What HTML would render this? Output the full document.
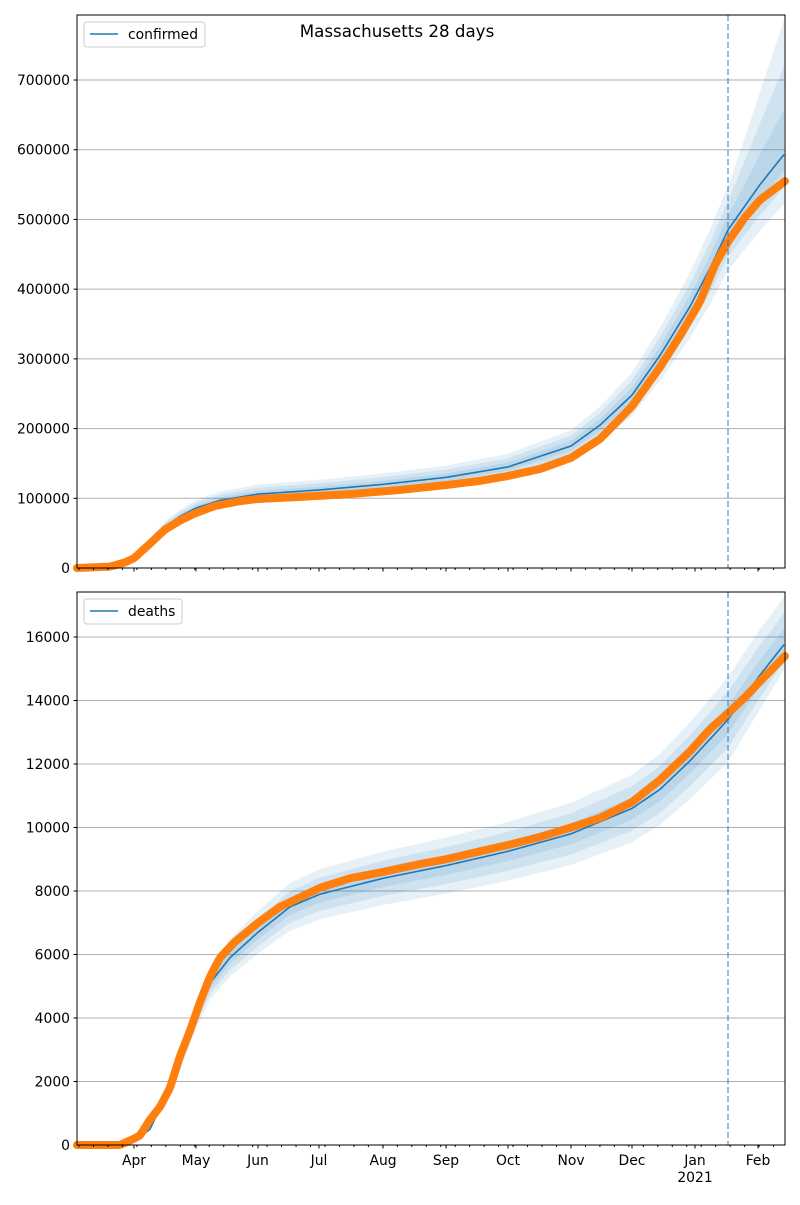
<!DOCTYPE html>
<html><head><meta charset="utf-8"><style>
body{margin:0;background:#fff}
svg text{font-family:"DejaVu Sans","Liberation Sans",sans-serif;font-size:13.9px;fill:#000}
</style></head><body>
<svg id="s" width="800" height="1200" xmlns="http://www.w3.org/2000/svg"></svg>
<script>
const S=document.getElementById('s');let h='';
function interp(pts,x){for(let i=0;i<pts.length-1;i++){if(x>=pts[i][0]&&x<=pts[i+1][0]){const t=(x-pts[i][0])/(pts[i+1][0]-pts[i][0]);return pts[i][1]+t*(pts[i+1][1]-pts[i][1]);}}return x<pts[0][0]?pts[0][1]:pts[pts.length-1][1];}
function panel(o){
 const {top,bot,scale,ticks,obs,mod,up0,up1,dn0,dn1,labels,legend,lw}=o;
 const Y=v=>bot-v*scale;
 ticks.forEach(t=>{const y=Y(t);if(t>0)h+=`<line x1="77" x2="785" y1="${y}" y2="${y}" stroke="#b0b0b0" stroke-width="1"/>`;h+=`<line x1="73.5" x2="77" y1="${y}" y2="${y}" stroke="#000"/><text x="70" y="${y+5}" text-anchor="end">${t}</text>`;});
 const xs=[];for(let x=120;x<=785;x+=2)xs.push(x);
 [1,0.66,0.33].forEach(f=>{
  let up=[],dn=[];
  xs.forEach(x=>{const m=interp(mod,x);const r=x<728?0:(x-728)/57;const u=up0+(up1-up0)*r,d=dn0+(dn1-dn0)*r;up.push([x,Y(m*(1+u*f))]);dn.push([x,Y(m*(1-d*f))]);});
  h+=`<path d="M${up.map(p=>p.join(',')).join('L')}L${dn.reverse().map(p=>p.join(',')).join('L')}Z" fill="#1f77b4" fill-opacity="0.11"/>`;
 });
 let mp=[];for(let x=120;x<=785;x+=2)mp.push(x+','+Y(interp(mod,x)));
 h+=`<path d="M${mp.join('L')}" fill="none" stroke="#1f77b4" stroke-width="1.6"/>`;
 let op=[];for(let x=77;x<=785;x+=2)op.push(x+','+Y(interp(obs,x)));
 h+=`<path d="M${op.join('L')}" fill="none" stroke="#ff7f0e" stroke-width="8" stroke-linecap="round" stroke-linejoin="round"/>`;
 h+=`<line x1="728" x2="728" y1="${top}" y2="${bot}" stroke="#1f77b4" stroke-opacity="0.6" stroke-width="1.6" stroke-dasharray="6,3"/>`;
 h+=`<rect x="77" y="${top}" width="708" height="${bot-top}" fill="none" stroke="#000" stroke-width="1"/>`;
 const months=[[134,'Apr'],[196,'May'],[258,'Jun'],[319,'Jul'],[383,'Aug'],[446,'Sep'],[508,'Oct'],[571,'Nov'],[632,'Dec'],[695,'Jan'],[758,'Feb']];
 months.forEach(m=>{h+=`<line x1="${m[0]}" x2="${m[0]}" y1="${bot}" y2="${bot+3.5}" stroke="#000"/>`;if(labels)h+=`<text x="${m[0]}" y="${bot+20}" text-anchor="middle">${m[1]}</text>`;});
 for(let x=79;x<785;x+=14.47)h+=`<line x1="${x}" x2="${x}" y1="${bot}" y2="${bot+2}" stroke="#000"/>`;
 if(labels)h+=`<text x="695" y="${bot+37}" text-anchor="middle">2021</text>`;
 h+=`<rect x="84" y="${top+7}" width="${lw}" height="25" rx="3" fill="#fff" fill-opacity="0.8" stroke="#ccc"/><line x1="90" x2="118" y1="${top+19}" y2="${top+19}" stroke="#1f77b4" stroke-width="1.6"/><text x="128" y="${top+24}">${legend}</text>`;
}
panel({top:15,bot:568,scale:0.0006971,ticks:[0,100000,200000,300000,400000,500000,600000,700000],
 obs:[[77,0],[110,2e3],[125,8e3],[134,14e3],[150,35e3],[165,55e3],[180,68e3],[196,79e3],[215,89e3],[240,96e3],[258,99e3],[300,102e3],[350,106e3],[400,112e3],[446,119e3],[480,125e3],[508,132e3],[540,142e3],[571,158e3],[600,185e3],[632,232e3],[660,288e3],[680,333e3],[700,382e3],[715,435e3],[728,468e3],[745,503e3],[760,528e3],[785,555e3]],
 mod:[[120,5e3],[134,14e3],[150,38e3],[165,59e3],[180,74e3],[196,86e3],[220,97e3],[258,106e3],[320,112e3],[383,120e3],[446,130e3],[508,145e3],[571,175e3],[600,205e3],[632,248e3],[660,305e3],[690,375e3],[710,430e3],[728,485e3],[760,550e3],[785,595e3]],
 up0:0.13,up1:0.33,dn0:0.12,dn1:0.12,labels:false,legend:'confirmed',lw:121});
panel({top:592,bot:1145,scale:0.03175,ticks:[0,2000,4000,6000,8000,10000,12000,14000,16000],
 obs:[[77,0],[120,0],[134,200],[140,300],[150,800],[160,1200],[170,1800],[180,2800],[190,3600],[200,4500],[210,5300],[220,5900],[235,6400],[258,7000],[280,7500],[300,7800],[320,8100],[350,8400],[383,8600],[420,8850],[446,9000],[480,9250],[508,9450],[540,9700],[571,10000],[600,10300],[632,10800],[660,11500],[690,12400],[710,13100],[728,13600],[745,14100],[760,14600],[785,15400]],
 mod:[[120,0],[134,100],[150,500],[165,1500],[180,2600],[195,4000],[210,5100],[230,5900],[258,6700],[290,7500],[320,7900],[383,8400],[446,8800],[508,9250],[571,9800],[632,10600],[660,11200],[690,12100],[728,13400],[760,14800],[785,15800]],
 up0:0.1,up1:0.095,dn0:0.1,dn1:0.05,labels:true,legend:'deaths',lw:98});
h+=`<text x="397" y="37" text-anchor="middle" style="font-size:16.7px">Massachusetts 28 days</text>`;
S.innerHTML=h;
</script>
</body></html>
